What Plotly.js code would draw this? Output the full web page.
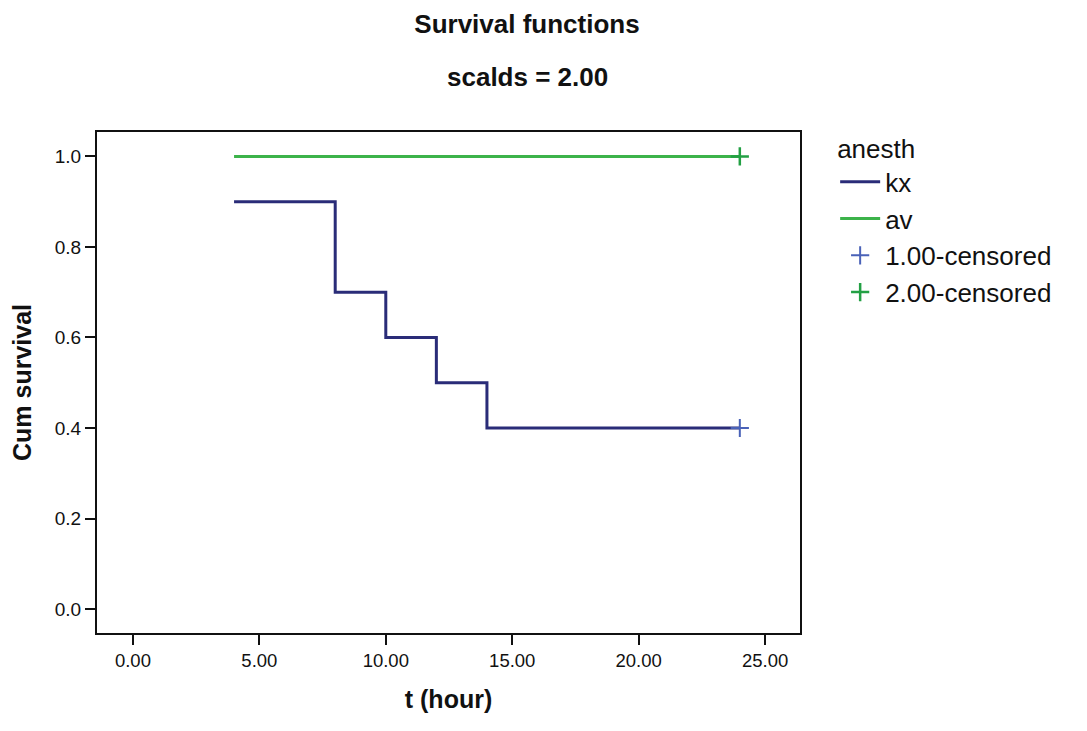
<!DOCTYPE html>
<html>
<head>
<meta charset="utf-8">
<script src="https://cdn.plot.ly/plotly-3.0.1.min.js"></script>
<style>html,body{margin:0;padding:0;background:#fff;}#chart{width:1087px;height:731px;}</style>
</head>
<body>
<div id="chart"></div>
<script>
// Data
const kxTime = [4, 8, 10, 12, 14, 24];
const kxSurvival = [0.9, 0.7, 0.6, 0.5, 0.4, 0.4];
const avTime = [4, 24];
const avSurvival = [1.0, 1.0];
const kxCensoredTime = [24];
const kxCensoredSurvival = [0.4];
const avCensoredTime = [24];
const avCensoredSurvival = [1.0];
const xTickValues = [0, 5, 10, 15, 20, 25];
const yTickValues = [0, 0.2, 0.4, 0.6, 0.8, 1.0];
const seriesNames = ['kx', 'av', '1.00-censored', '2.00-censored'];

const FONT = 'Liberation Sans, Arial, sans-serif';

const traces = [
  {x: kxTime, y: kxSurvival, name: seriesNames[0], mode: 'lines',
   line: {shape: 'hv', color: '#2a2c78', width: 3}},
  {x: avTime, y: avSurvival, name: seriesNames[1], mode: 'lines',
   line: {shape: 'hv', color: '#3cb34a', width: 3}},
  {x: kxCensoredTime, y: kxCensoredSurvival, name: seriesNames[2], mode: 'markers',
   marker: {symbol: 'cross-thin', size: 13, line: {color: '#4a62b8', width: 2}}},
  {x: avCensoredTime, y: avCensoredSurvival, name: seriesNames[3], mode: 'markers',
   marker: {symbol: 'cross-thin', size: 13, line: {color: '#23a044', width: 2.5}}}
];

const layout = {
  width: 1087, height: 731,
  margin: {l: 97, r: 287, t: 132, b: 98},
  paper_bgcolor: '#ffffff', plot_bgcolor: '#ffffff',
  font: {family: FONT, color: '#111'},
  title: {text: '<b>Survival functions</b>', font: {family: FONT, size: 26, color: '#111'},
          x: 527 / 1087, xanchor: 'center', xref: 'container', y: 1 - 24 / 731, yanchor: 'middle', yref: 'container'},
  annotations: [
    {text: '<b>scalds = 2.00</b>', xref: 'paper', yref: 'paper', x: (527 - 97) / 703, y: (633 - 77) / 501,
     xanchor: 'center', yanchor: 'middle', showarrow: false, font: {family: FONT, size: 26, color: '#111'}}
  ],
  xaxis: {
    range: [-1.42, 26.38], tickvals: xTickValues, tickformat: '.2f',
    ticks: 'outside', ticklen: 10, tickwidth: 2, tickcolor: '#111',
    showline: true, linecolor: '#111', linewidth: 2, mirror: true,
    showgrid: false, zeroline: false,
    tickfont: {family: FONT, size: 18.5, color: '#111'},
    title: {text: '<b>t (hour)</b>', font: {family: FONT, size: 25, color: '#111'}, standoff: 20}
  },
  yaxis: {
    range: [-0.053, 1.054], tickvals: yTickValues, tickformat: '.1f',
    ticks: 'outside', ticklen: 10, tickwidth: 2, tickcolor: '#111',
    showline: true, linecolor: '#111', linewidth: 2, mirror: true,
    showgrid: false, zeroline: false,
    tickfont: {family: FONT, size: 19, color: '#111'},
    title: {text: '<b>Cum survival</b>', font: {family: FONT, size: 25, color: '#111'}, standoff: 16}
  },
  showlegend: true,
  legend: {
    x: 1.05, y: 1.015, xanchor: 'left', yanchor: 'top',
    font: {family: FONT, size: 26, color: '#111'},
    title: {text: 'anesth', font: {family: FONT, size: 26, color: '#111'}},
    tracegroupgap: 0, itemwidth: 40, bgcolor: 'rgba(0,0,0,0)'
  }
};

Plotly.newPlot('chart', traces, layout, {displayModeBar: false, staticPlot: true});
</script>
</body>
</html>
